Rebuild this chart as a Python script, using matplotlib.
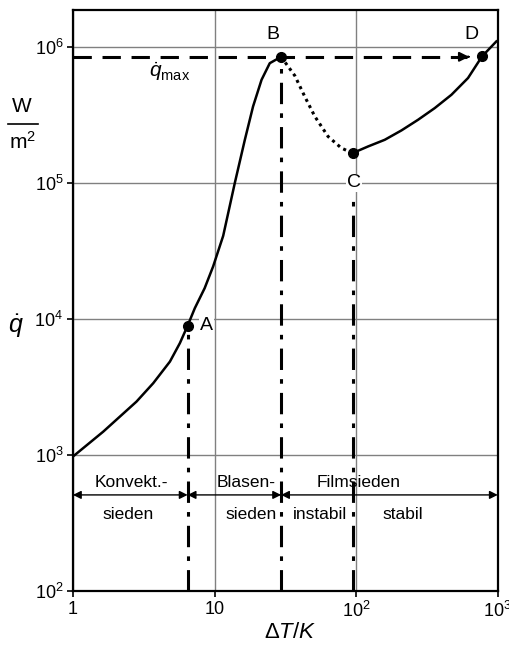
import numpy as np
from matplotlib import pyplot as plt
from matplotlib.lines import Line2D

plt.rcParams['font.family'] = ['Liberation Sans', 'DejaVu Sans']
plt.rcParams['mathtext.fontset'] = 'custom'
plt.rcParams['mathtext.rm'] = 'Liberation Sans'
plt.rcParams['mathtext.it'] = 'Liberation Sans:italic'

# Siedekurve, log10-Werte (dT in K, q in W/m^2)
conv_logx = [0.0, 0.214, 0.332, 0.449, 0.567, 0.685, 0.755, 0.81]
conv_logy = [2.988, 3.171, 3.282, 3.392, 3.527, 3.686, 3.821, 3.95]
nucl_logx = [0.81, 0.861, 0.93, 0.99, 1.061, 1.143, 1.214, 1.272, 1.332, 1.39, 1.47]
nucl_logy = [3.95, 4.079, 4.225, 4.385, 4.61, 4.998, 5.316, 5.561, 5.757, 5.879, 5.926]
trans_logx = [1.47, 1.567, 1.637, 1.708, 1.802, 1.896, 1.975]
trans_logy = [5.926, 5.787, 5.634, 5.488, 5.34, 5.255, 5.218]
film_logx = [1.975, 2.084, 2.202, 2.32, 2.437, 2.555, 2.673, 2.79, 2.889, 2.99]
film_logy = [5.218, 5.267, 5.316, 5.385, 5.463, 5.549, 5.647, 5.77, 5.929, 6.039]

points = {'A': (0.81, 3.95), 'B': (1.47, 5.926), 'C': (1.975, 5.218), 'D': (2.889, 5.929)}
q_max = 10 ** 5.926
y_arrow = 10 ** 2.706
y_top = 10 ** 2.80
y_bot = 10 ** 2.56

xticks = [1, 10, 100, 1000]
xticklabels = ['1', '10', '$10^2$', '$10^3$']
yticks = [1e2, 1e3, 1e4, 1e5, 1e6]
yticklabels = ['$10^2$', '$10^3$', '$10^4$', '$10^5$', '$10^6$']


def p(lx):
    return 10 ** np.asarray(lx)


fig = plt.figure(figsize=(5.1, 6.48), dpi=100)
ax = fig.add_axes([0.143, 0.088, 0.833, 0.897])
ax.set_xscale('log')
ax.set_yscale('log')
ax.set_xlim(1, 1000)
ax.set_ylim(1e2, 10 ** 6.272)
ax.set_xticks(xticks)
ax.set_xticklabels(xticklabels, fontsize=13)
ax.set_yticks(yticks)
ax.set_yticklabels(yticklabels, fontsize=13)
ax.minorticks_off()
ax.tick_params(direction='out', length=4, width=1.2, pad=3)
ax.grid(True, color='#808080', lw=1.0)
for s in ax.spines.values():
    s.set_linewidth(1.6)

# Kurve
ax.plot(p(conv_logx), p(conv_logy), 'k-', lw=1.8, solid_joinstyle='round')
ax.plot(p(nucl_logx), p(nucl_logy), 'k-', lw=1.8, solid_joinstyle='round')
ax.plot(p(trans_logx), p(trans_logy), 'k', lw=2.2, ls=(0, (1, 1.3)))
ax.plot(p(film_logx), p(film_logy), 'k-', lw=1.8, solid_joinstyle='round')
for name, (lx, ly) in points.items():
    ax.plot(10 ** lx, 10 ** ly, 'ko', ms=7, zorder=5)

# q_max Linie mit Pfeil
xa = 10 ** 2.817
ax.plot([1, xa * 0.93], [q_max, q_max], 'k', lw=2.2, ls=(0, (6, 3.5)))
ax.annotate('', xy=(xa, q_max), xytext=(xa * 0.9, q_max),
            arrowprops=dict(arrowstyle='-|>', color='k', lw=1.5, mutation_scale=14))
ax.text(10 ** 0.683, 10 ** 5.816, r'$\dot{q}_{\mathrm{max}}$', fontsize=15,
        ha='center', va='center')

# senkrechte Grenzlinien
dashdot = (0, (7, 3, 1.5, 3))
ax.plot([10 ** 0.81] * 2, [1e2, 10 ** 3.95], 'k', lw=2.2, ls=dashdot)
ax.plot([10 ** 1.47] * 2, [1e2, q_max], 'k', lw=2.2, ls=dashdot)
ax.plot([10 ** 1.975] * 2, [1e2, 10 ** 4.92], 'k', lw=2.2, ls=dashdot)

# Punktbeschriftungen
lab = dict(fontsize=14, ha='center', va='center',
           bbox=dict(fc='white', ec='none', pad=0.5))
ax.text(10 ** 1.41, 10 ** 6.09, 'B', **lab)
ax.text(10 ** 2.817, 10 ** 6.09, 'D', **lab)
ax.text(10 ** 1.986, 10 ** 5.0, 'C', **lab)
ax.text(10 ** 0.944, 10 ** 3.95, 'A', **lab)

# Bereiche
arr = dict(arrowstyle='<|-|>', color='k', lw=1.0, mutation_scale=12, shrinkA=0, shrinkB=0)
for x0, x1 in [(1, 10 ** 0.81), (10 ** 0.81, 10 ** 1.47), (10 ** 1.47, 1000)]:
    ax.annotate('', xy=(x1, y_arrow), xytext=(x0, y_arrow), arrowprops=arr)
reg = dict(fontsize=12.5, ha='center', va='center')
ax.text(10 ** 0.415, y_top, 'Konvekt.-', **reg)
ax.text(10 ** 0.387, y_bot, 'sieden', **reg)
ax.text(10 ** 1.225, y_top, 'Blasen-', **reg)
ax.text(10 ** 1.26, y_bot, 'sieden', **reg)
ax.text(10 ** 2.02, y_top, 'Filmsieden', **reg)
ax.text(10 ** 1.747, y_bot, 'instabil', **reg)
ax.text(10 ** 2.33, y_bot, 'stabil', **reg)

# Achsenbeschriftung
fig.text(290 / 510, 1 - 633 / 648, r'$\Delta T/K$', fontsize=16, ha='center', va='center')
fig.text(16 / 510, 1 - 326 / 648, r'$\dot{q}$', fontsize=18, ha='center', va='center')
fig.text(22 / 510, 1 - 106 / 648, 'W', fontsize=15, ha='center', va='center')
fig.text(22 / 510, 1 - 142 / 648, 'm$^2$', fontsize=15, ha='center', va='center')
fig.add_artist(Line2D([8 / 510, 38 / 510], [1 - 124 / 648] * 2, color='k', lw=1.2))

plt.savefig('out.png', dpi=100)
